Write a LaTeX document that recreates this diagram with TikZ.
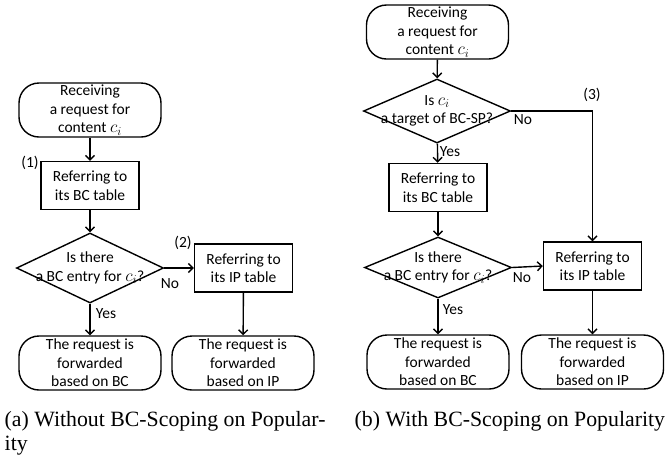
\documentclass[tikz,border=0pt]{standalone}
\usepackage{fontspec}
\setmainfont{Liberation Serif}
\newfontfamily\flowfont{Carlito}
\usetikzlibrary{shapes.geometric,arrows.meta}
\newcommand{\ci}{{\fontsize{18}{18}\selectfont$c_i$}}

\begin{document}
\begin{tikzpicture}[x=1pt,y=-1pt,line width=1.4pt,
		every node/.style={font=\flowfont\fontsize{15.5}{18.5}\selectfont},
		term/.style={draw,rounded corners=20pt,minimum width=142pt,minimum height=54pt,align=center,inner sep=0pt},
		proc/.style={draw,minimum width=98pt,minimum height=48pt,align=center,inner sep=0pt},
		decision/.style={draw,diamond,minimum width=147pt,minimum height=70pt,inner sep=0pt},
		txt/.style={align=center,inner sep=0pt},
		flow/.style={-{Straight Barb[length=4.5pt,width=9pt]}},
		captext/.style={anchor=base west,inner sep=0pt,font=\rmfamily\fontsize{21.8}{24}\selectfont}]
			\useasboundingbox (0,0) rectangle (670,459);
			% (a) without scoping
			\node[term] (a0) at (90,110) {Receiving\\a request for\\content \ci};
			\node[proc] (a1) at (90,185.5) {Referring to\\its BC table};
			\node[decision] (a2) at (90,268) {};
			\node[txt] (a2t) at (90,268) {Is there\\a BC entry for \ci?};
			\node[proc] (a3) at (243.5,268) {Referring to\\its IP table};
			\node[term] (a4) at (90,363) {The request is\\forwarded\\based on BC};
			\node[term] (a5) at (243,363) {The request is\\forwarded\\based on IP};
			\draw[flow] (a0) -- (a1);
			\draw[flow] (a1) -- (a2);
			\draw[flow] (a2) -- (a3);
			\draw[flow] (a2) -- (a4);
			\draw[flow] (a3) -- (a5);
			%labels
			\node (a1n) at (30,163) {(1)};
			\node (a3n) at (183,243) {(2)};
			\node (a2no) at (170,284) {No};
			\node (a2yes) at (106,314) {Yes};
			\node[captext] (capa) at (4,426) {(a) Without BC-Scoping on Popular-};
			\node[captext] (capa2) at (4,450) {ity};
			% (b) with scoping
			\node[term] (b0) at (437.5,32) {Receiving\\a request for\\content \ci};
			\node[decision,minimum height=64pt] (b1) at (437,111) {};
			\node[txt] (b1t) at (437,111) {Is \ci\\a target of BC-SP?};
			\node[proc] (b2) at (438,187.5) {Referring to\\its BC table};
			\node[decision,minimum height=61pt] (b3) at (438,267.5) {};
			\node[txt] (b3t) at (438,267.5) {Is there\\a BC entry for \ci?};
			\node[proc] (b4) at (592.5,266) {Referring to\\its IP table};
			\node[term] (b5) at (438,362) {The request is\\forwarded\\based on BC};
			\node[term] (b6) at (592.5,362) {The request is\\forwarded\\based on IP};
			\draw[flow] (b0) -- (b1);
			\draw[flow] (b1) -- (b2);
			\draw[flow] (b2) -- (b3);
			\draw[flow] (b3.east) -- (b4.west);
			\draw[flow] (b1.east) -| (b4);
			\draw[flow] (b3) -- (b5);
			\draw[flow] (b4) -- (b6);
			%labels
			\node (b4n) at (592,95) {(3)};
			\node (b1no) at (523,120) {No};
			\node (b1yes) at (450,152) {Yes};
			\node (b3no) at (522,278) {No};
			\node (b3yes) at (453,310) {Yes};
			\node[captext] (capb) at (354,426) {(b) With BC-Scoping on Popularity};
		\end{tikzpicture}
\end{document}
